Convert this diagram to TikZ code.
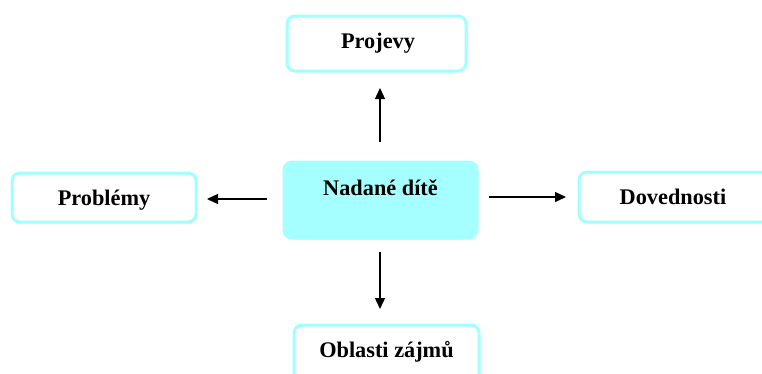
\documentclass[tikz,border=0pt]{standalone}
\usepackage{fontspec}
\setmainfont{Liberation Serif}
\usetikzlibrary{arrows.meta}
\definecolor{edgecyan}{RGB}{160,255,255}
\definecolor{fillcyan}{RGB}{166,255,255}
\begin{document}
\begin{tikzpicture}[x=1pt,y=-1pt,
  box/.style={draw=edgecyan,line width=3pt,rounded corners=8pt,fill=white,inner sep=0pt},
  mainbox/.style={draw=fillcyan,fill=fillcyan,line width=1pt,rounded corners=9pt,inner sep=0pt},
  lbl/.style={font=\fontsize{22.3}{26}\selectfont\bfseries,anchor=base,inner sep=0pt},
  conn/.style={line width=1.3pt,-{Triangle[length=11pt,width=10pt]}}]
\path[use as bounding box] (0,0) rectangle (762,373);
\clip (0,0) rectangle (762,373);
% boxes
\node[box,minimum width=179pt,minimum height=55pt] (pb) at (376.5,43.5) {};
\node[mainbox,minimum width=195pt,minimum height=78pt] (cb) at (380.5,200) {};
\node[box,minimum width=184pt,minimum height=49pt] (lb) at (104,197.5) {};
\node[box,minimum width=191pt,minimum height=50pt] (rb) at (674.5,197) {};
\node[box,minimum width=185pt,minimum height=58pt] (bb) at (386.5,354) {};
% labels
\node[lbl] (pt) at (378,48) {Projevy};
\node[lbl] (ct) at (380.5,195) {Nadané dítě};
\node[lbl] (lt) at (104,205) {Problémy};
\node[lbl] (rt) at (673,204) {Dovednosti};
\node[lbl] (bt) at (386.5,357) {Oblasti zájmů};
% connector ends
\coordinate (u1) at (380,142);
\coordinate (u2) at (380,88);
\coordinate (l1) at (267,199);
\coordinate (l2) at (207,199);
\coordinate (r1) at (489,197);
\coordinate (r2) at (566,197);
\coordinate (d1) at (380,252);
\coordinate (d2) at (380,309);
\draw[conn] (u1) -- (u2);
\draw[conn] (l1) -- (l2);
\draw[conn] (r1) -- (r2);
\draw[conn] (d1) -- (d2);
\end{tikzpicture}
\end{document}
